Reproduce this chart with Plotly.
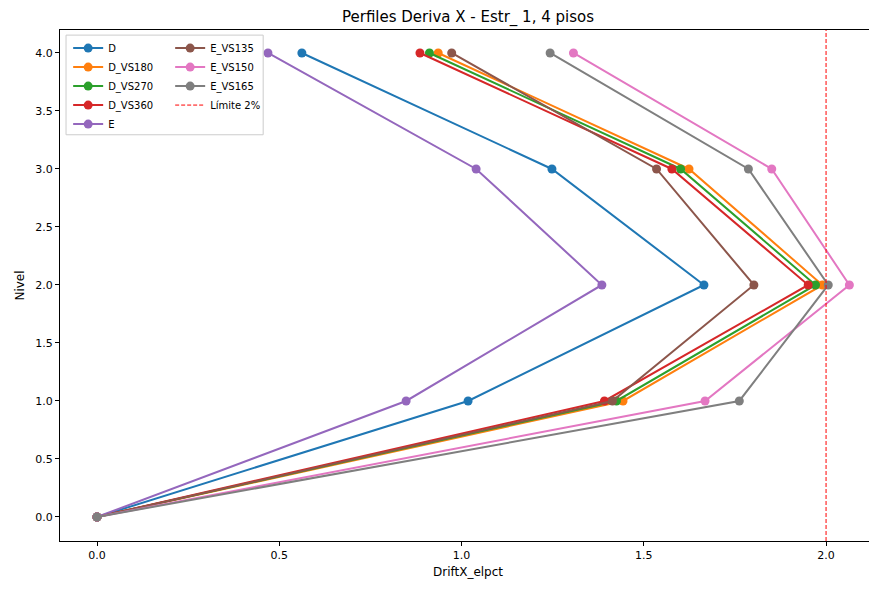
import plotly.graph_objects as go

niveles = [0, 1, 2, 3, 4]
D = [0.0, 1.018, 1.665, 1.248, 0.562]
D_VS180 = [0.0, 1.443, 1.990, 1.624, 0.936]
D_VS270 = [0.0, 1.425, 1.971, 1.601, 0.912]
D_VS360 = [0.0, 1.392, 1.951, 1.577, 0.886]
E = [0.0, 0.848, 1.385, 1.040, 0.469]
E_VS135 = [0.0, 1.414, 1.802, 1.535, 0.973]
E_VS150 = [0.0, 1.668, 2.064, 1.851, 1.307]
E_VS165 = [0.0, 1.762, 2.006, 1.787, 1.243]
LIMITE = 2.0

series = [
    ("D", D, "#1f77b4", "legend"),
    ("D_VS180", D_VS180, "#ff7f0e", "legend"),
    ("D_VS270", D_VS270, "#2ca02c", "legend"),
    ("D_VS360", D_VS360, "#d62728", "legend"),
    ("E", E, "#9467bd", "legend"),
    ("E_VS135", E_VS135, "#8c564b", "legend2"),
    ("E_VS150", E_VS150, "#e377c2", "legend2"),
    ("E_VS165", E_VS165, "#7f7f7f", "legend2"),
]

fig = go.Figure()
for name, vals, color, leg in series:
    fig.add_trace(go.Scatter(
        x=vals, y=niveles, mode="lines+markers", name=name,
        line=dict(color=color, width=2), marker=dict(color=color, size=9),
        legend=leg))

fig.add_trace(go.Scatter(x=[None], y=[None], mode="lines", name="Límite 2%",
                         line=dict(color="red", width=1, dash="4px,2px"), legend="legend2"))

font = "DejaVu Sans, Arial, sans-serif"
fig.update_layout(
    width=877, height=592,
    margin=dict(l=52, r=9, t=22, b=59, autoexpand=False),
    plot_bgcolor="white", paper_bgcolor="white",
    font=dict(family=font, size=11, color="black"),
    title=dict(text="Perfiles Deriva X - Estr_ 1, 4 pisos", x=0.5, xref="paper",
               y=1 - 9 / 592, yref="container", xanchor="center", yanchor="middle",
               font=dict(size=15, color="black")),
    xaxis=dict(title=dict(text="DriftX_elpct", font=dict(size=12), standoff=6),
               range=[-0.1015, 2.137], tickvals=[0, 0.5, 1.0, 1.5, 2.0],
               tickformat=".1f", showgrid=False, zeroline=False, automargin=False,
               showline=True, linecolor="black", linewidth=1, mirror=True,
               ticks="outside", ticklen=4, tickcolor="black"),
    yaxis=dict(title=dict(text="Nivel", font=dict(size=12), standoff=8),
               range=[-0.207, 4.198], tickvals=[0, 0.5, 1, 1.5, 2, 2.5, 3, 3.5, 4],
               tickformat=".1f", showgrid=False, zeroline=False, automargin=False,
               showline=True, linecolor="black", linewidth=1, mirror=True,
               ticks="outside", ticklen=4, tickcolor="black"),
    legend=dict(x=0.01, y=0.993, xanchor="left", yanchor="top",
                bgcolor="rgba(0,0,0,0)", font=dict(size=10), itemwidth=30,
                tracegroupgap=0),
    legend2=dict(x=0.135, y=0.993, xanchor="left", yanchor="top",
                 bgcolor="rgba(0,0,0,0)", font=dict(size=10), itemwidth=30,
                 tracegroupgap=0),
    shapes=[
        dict(type="rect", xref="paper", yref="paper",
             x0=0.0074, x1=0.249, y0=0.795, y1=0.990,
             line=dict(color="#cccccc", width=1), fillcolor="rgba(255,255,255,0.8)",
             layer="above"),
        dict(type="line", xref="x", yref="paper", x0=LIMITE, x1=LIMITE, y0=0, y1=1,
             line=dict(color="red", width=1, dash="4px,2px"), layer="above"),
    ],
)

fig.write_html("out.html")
